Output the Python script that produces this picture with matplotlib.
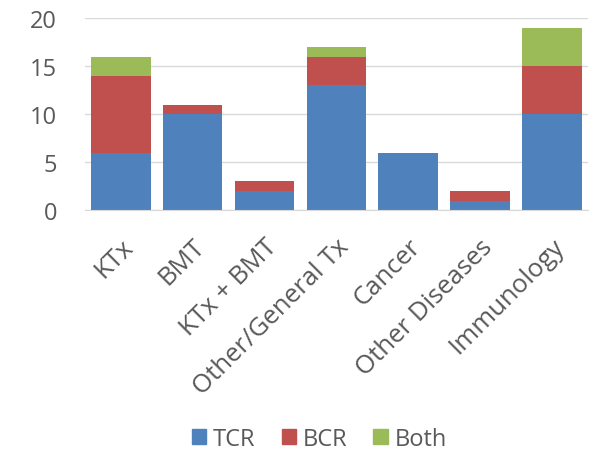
import numpy as np
import matplotlib
matplotlib.use('Agg')
import matplotlib.pyplot as plt
from matplotlib.patches import Patch

categories = ['KTx', 'BMT', 'KTx + BMT', 'Other/General Tx', 'Cancer',
              'Other Diseases', 'Immunology']
tcr = [6, 10, 2, 13, 6, 1, 10]
bcr = [8, 1, 1, 3, 0, 1, 5]
both = [2, 0, 0, 1, 0, 0, 4]

plt.rcParams['font.family'] = ['Open Sans', 'DejaVu Sans']
grey = '#595959'
colors = {'TCR': '#4F81BD', 'BCR': '#C0504D', 'Both': '#9BBB59'}

fig = plt.figure(figsize=(5.97, 4.56), dpi=100)
ax = fig.add_axes([0.142, 0.537, 0.843, 0.421])

x = np.arange(len(categories))
tcr = np.array(tcr)
bcr = np.array(bcr)
both = np.array(both)
w = 0.83
ax.bar(x, tcr, w, color=colors['TCR'], zorder=2)
ax.bar(x, bcr, w, bottom=tcr, color=colors['BCR'], zorder=2)
ax.bar(x, both, w, bottom=tcr + bcr, color=colors['Both'], zorder=2)

ax.set_xlim(-0.5, len(categories) - 0.5)
ax.set_ylim(0, 20)
ax.set_yticks([0, 5, 10, 15, 20])
ax.yaxis.grid(True, color='#D9D9D9', linewidth=1, zorder=0)
for s in ['top', 'right', 'left']:
    ax.spines[s].set_visible(False)
ax.spines['bottom'].set_color('#D9D9D9')
ax.tick_params(axis='both', length=0, colors=grey)
ax.tick_params(axis='y', labelsize=17, pad=20)
ax.set_xticks(x)
ax.set_xticklabels(categories, rotation=45, ha='right', rotation_mode='anchor',
                   fontsize=18.5, color=grey)
ax.tick_params(axis='x', pad=17)

handles = [Patch(color=colors[k]) for k in ['TCR', 'BCR', 'Both']]
fig.legend(handles, ['TCR', 'BCR', 'Both'], loc='center', bbox_to_anchor=(0.535, 0.035),
           ncol=3, frameon=False, fontsize=17, labelcolor=grey,
           handlelength=0.6, handleheight=0.6, handletextpad=0.3, columnspacing=1.1)

plt.savefig('out.png', dpi=100)
